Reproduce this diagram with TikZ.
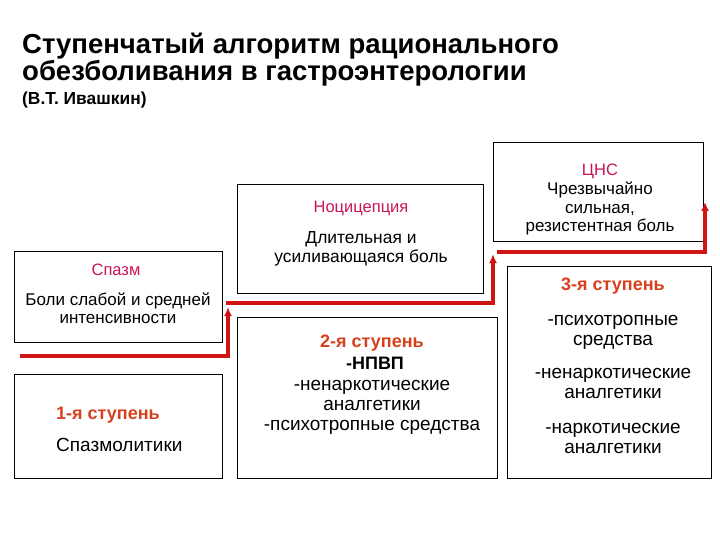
\documentclass[tikz,border=0pt]{standalone}
\usepackage{fontspec}
\setmainfont{Liberation Sans}
\usetikzlibrary{arrows.meta}
\definecolor{pinkred}{HTML}{C8145A}
\definecolor{stepred}{HTML}{D8401C}
\definecolor{linered}{HTML}{D01414}
\begin{document}
\begin{tikzpicture}[x=1pt,y=-1pt,
  box/.style={draw=black,line width=1.1pt,anchor=north west,inner sep=0pt},
  head/.style={text=pinkred,font=\fontsize{16.5}{18}\selectfont,inner sep=0pt,anchor=base},
  stephead/.style={text=stepred,font=\bfseries\fontsize{18}{20}\selectfont,inner sep=0pt},
  body/.style={align=center,inner sep=0pt,anchor=base},
  titlestyle/.style={anchor=base west,inner sep=0pt,font=\bfseries\fontsize{27.5}{27.5}\selectfont},
  stair/.style={draw=linered,line width=3.5pt,-{Latex[length=9pt,width=8pt]}}]
\useasboundingbox (0,0) rectangle (720,540);
% title
\node[titlestyle] (t1) at (22,54) {Ступенчатый алгоритм рационального};
\node[titlestyle] (t2) at (22,81) {обезболивания в гастроэнтерологии};
\node[anchor=base west,inner sep=0pt,font=\bfseries\fontsize{17.4}{17.4}\selectfont] (t3) at (22,105) {(В.Т. Ивашкин)};
% boxes
\node[box,minimum width=208pt,minimum height=91pt] (spasm) at (14,251) {};
\node[box,minimum width=208pt,minimum height=104pt] (s1) at (14,374) {};
\node[box,minimum width=246pt,minimum height=109pt] (noci) at (237,184) {};
\node[box,minimum width=260pt,minimum height=161pt] (s2) at (237,317) {};
\node[box,minimum width=210pt,minimum height=99pt] (cns) at (493,142) {};
\node[box,minimum width=204pt,minimum height=212pt] (s3) at (507,266) {};
% texts (multi-line nodes are placed by the baseline of their last line)
\node[head] (spasmh) at (116,275) {Спазм};
\node[body,font=\fontsize{17}{18}\selectfont] (spasmb) at (118,323) {Боли слабой и средней\\интенсивности};
\node[head] (nocih) at (361,213) {Ноцицепция};
\node[body,font=\fontsize{17.4}{19}\selectfont] (nocib) at (361,262) {Длительная и\\усиливающаяся боль};
\node[head] (cnsh) at (600,176) {ЦНС};
\node[body,font=\fontsize{17}{18.5}\selectfont] (cnsb) at (600,232) {Чрезвычайно\\сильная,\\резистентная боль};
\node[stephead,anchor=base west] (s1h) at (56,419) {1-я ступень};
\node[body,anchor=base west,font=\fontsize{19}{20}\selectfont] (s1b) at (56,451) {Спазмолитики};
\node[stephead,anchor=base] (s2h) at (372,347) {2-я ступень};
\node[body,font=\bfseries\fontsize{18}{20}\selectfont] (s2a) at (375,369) {-НПВП};
\node[body,font=\fontsize{19}{20}\selectfont] (s2b) at (372,430) {-ненаркотические\\аналгетики\\-психотропные средства};
\node[stephead,anchor=base] (s3h) at (613,290) {3-я ступень};
\node[body,font=\fontsize{19}{20}\selectfont] (s3a) at (613,345) {-психотропные\\средства};
\node[body,font=\fontsize{19}{20}\selectfont] (s3b) at (613,398) {-ненаркотические\\аналгетики};
\node[body,font=\fontsize{19}{20}\selectfont] (s3c) at (613,453) {-наркотические\\аналгетики};
% stair connectors
\coordinate (a0) at (20,356);
\coordinate (a1) at (228,356);
\coordinate (a2) at (228,307);
\coordinate (b0) at (226.3,303);
\coordinate (b1) at (493,303);
\coordinate (b2) at (493,254);
\coordinate (c0) at (497,252);
\coordinate (c1) at (705,252);
\coordinate (c2) at (705,202);
\draw[stair] (a0) -- (a1) -- (a2);
\draw[stair] (b0) -- (b1) -- (b2);
\draw[stair] (c0) -- (c1) -- (c2);
\end{tikzpicture}
\end{document}
